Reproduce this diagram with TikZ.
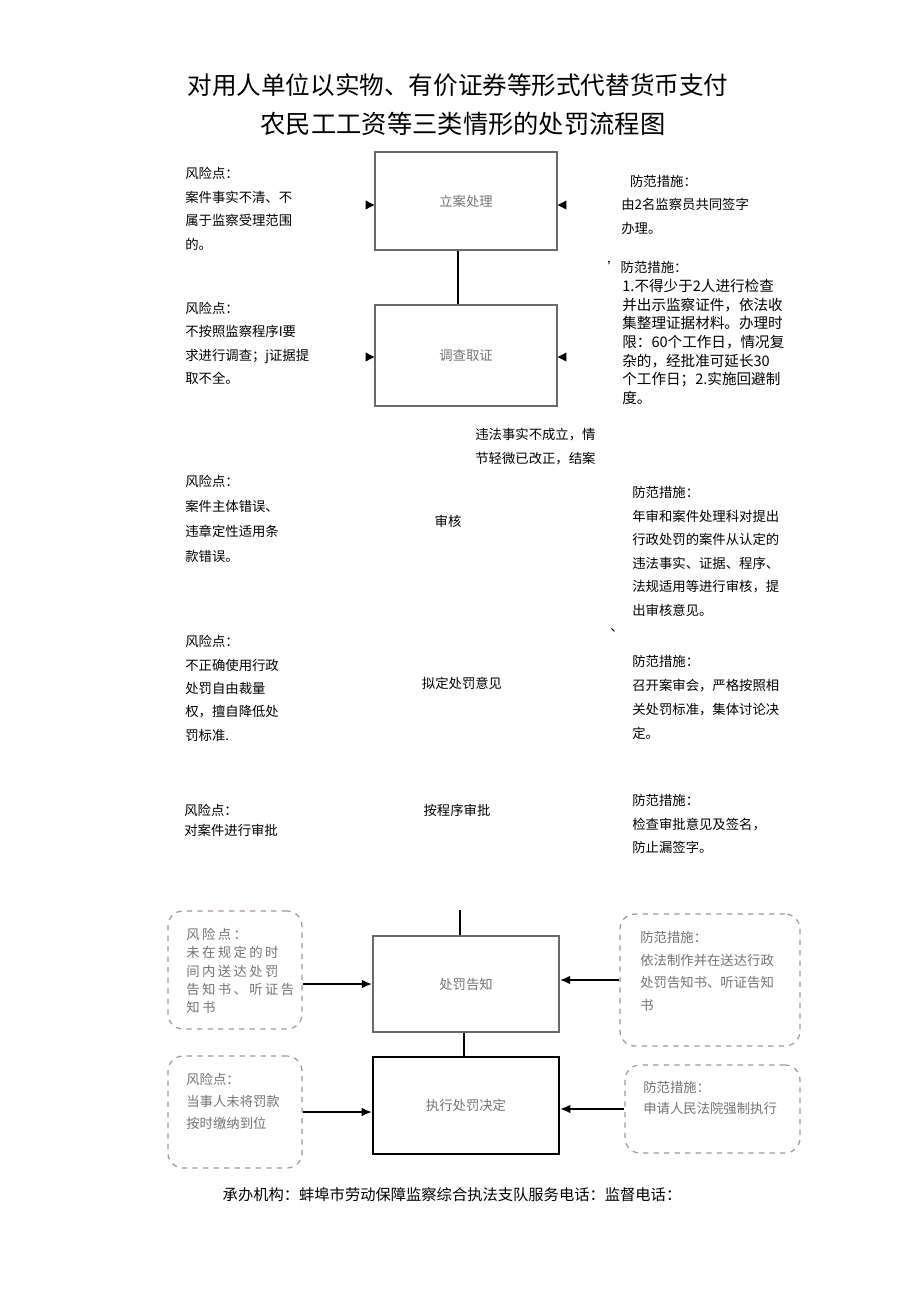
\documentclass[tikz,border=0pt]{standalone}
\usepackage{fontspec}
\setmainfont{Noto Sans CJK SC}
\newfontfamily\spaced[LetterSpace=18]{Noto Sans CJK SC}
\usetikzlibrary{arrows.meta,positioning}
\definecolor{boxline}{RGB}{105,105,105}
\definecolor{dashline}{RGB}{165,145,170}
\definecolor{greytext}{RGB}{115,115,115}
\tikzset{box/.style={draw=boxline,line width=0.8pt,minimum width=3.64cm,minimum height=1.96cm,text=greytext,font=\fontsize{7.6}{9}\selectfont},
 note/.style={anchor=north west,inner sep=0pt,align=left,font=\fontsize{7.6}{13.4}\selectfont},
 label/.style={inner sep=0pt,font=\fontsize{7.6}{9}\selectfont},
 dbox/.style={draw=dashline,dashed,rounded corners=0.3cm,line width=0.7pt},
 flow/.style={-{Latex[length=6pt,width=5pt]},line width=1.2pt},
 stub/.style={-{Triangle[length=5pt,width=5pt]},line width=0.6pt},
 link/.style={line width=1pt}}

\begin{document}
\begin{tikzpicture}[x=0.02cm,y=-0.02cm]
 \useasboundingbox (0,0) rectangle (920,1301);
 % title
 \node[font=\fontsize{14}{16}\selectfont] (title1) at (458,85) {对用人单位以实物、有价证券等形式代替货币支付};
 \node[font=\fontsize{14.4}{17}\selectfont] (title2) at (463,124) {农民工工资等三类情形的处罚流程图};

 % upper steps
 \node[box] (lian) at (466,201) {立案处理};
 \node[box,minimum height=2.02cm] (diaocha) at (466,355.5) {调查取证};
 \draw[link] ([xshift=-0.16cm]lian.south) -- ([xshift=-0.16cm]diaocha.north);

 \coordinate (la) at (366,205); \coordinate (ra) at (565,205);
 \coordinate (lb) at (366,357); \coordinate (rb) at (565,357);
 \draw[stub] (la) -- (la -| lian.west);
 \draw[stub] (ra) -- (ra -| lian.east);
 \draw[stub] (lb) -- (lb -| diaocha.west);
 \draw[stub] (rb) -- (rb -| diaocha.east);

 \node[note] (riskA) at (185,167) {风险点：\\案件事实不清、不\\属于监察受理范围\\的。};
 \node[note,font=\fontsize{7.6}{13.3}\selectfont] (measA) at (621,175) {\hspace*{5pt}防范措施：\\由2名监察员共同签字\\办理。};
 \node[note] (measBh) at (607,261) {'防范措施：};
 \node[note,font=\fontsize{8.3}{10.6}\selectfont] (measB) at (622,279) {1.不得少于2人进行检查\\并出示监察证件，依法收\\集整理证据材料。办理时\\限：60个工作日，情况复\\杂的，经批准可延长30\\个工作日；2.实施回避制\\度。};
 \node[note,font=\fontsize{7.6}{13.2}\selectfont] (riskB) at (185,302) {风险点：\\不按照监察程序I要\\求进行调查；j证据提\\取不全。};

 % middle steps (text only)
 \node[note,font=\fontsize{7.6}{13.6}\selectfont] (close) at (475,428) {违法事实不成立，情\\节轻微已改正，结案};
 \node[label] (shenhe) at (448,521) {审核};
 \node[note,font=\fontsize{7.6}{14.2}\selectfont] (riskC) at (185,475) {风险点：\\案件主体错误、\\违章定性适用条\\款错误。};
 \node[note] (measC) at (632,486) {防范措施：\\年审和案件处理科对提出\\行政处罚的案件从认定的\\违法事实、证据、程序、\\法规适用等进行审核，提\\出审核意见。};
 \node[label] (mark) at (617,630) {、};

 \node[label] (niding) at (462,683) {拟定处罚意见};
 \node[note,font=\fontsize{7.6}{13.3}\selectfont] (riskD) at (185,635) {风险点：\\不正确使用行政\\处罚自由裁量\\权，擅自降低处\\罚标准.};
 \node[note,font=\fontsize{7.6}{13.6}\selectfont] (measD) at (632,655) {防范措施：\\召开案审会，严格按照相\\关处罚标准，集体讨论决\\定。};

 \node[label] (shenpi) at (457,810) {按程序审批};
 \node[note,font=\fontsize{7.6}{11.3}\selectfont] (riskE) at (184,804) {风险点：\\对案件进行审批};
 \node[note] (measE) at (632,794) {防范措施：\\检查审批意见及签名，\\防止漏签字。};

 % lower steps
 \coordinate (cut) at (460,910);
 \node[box,minimum width=3.72cm,minimum height=1.92cm] (gaozhi) at (466,984) {处罚告知};
 \node[box,draw=black,line width=1pt,minimum width=3.72cm,minimum height=1.94cm] (zhixing) at (466,1105.5) {执行处罚决定};
 \draw[link] (cut) -- (cut |- gaozhi.north);
 \draw[link] ([xshift=-0.04cm]gaozhi.south) -- ([xshift=-0.04cm]zhixing.north);

 \node[dbox,minimum width=2.68cm,minimum height=2.36cm] (riskF) at (235,970) {};
 \node[note,text=greytext,font=\spaced\fontsize{7.6}{10.4}\selectfont] at (186,928) {风险点：\\未在规定的时\\间内送达处罚\\告知书、听证告\\知书};
 \node[dbox,minimum width=3.6cm,minimum height=2.64cm] (measF) at (710,980) {};
 \node[note,text=greytext,font=\fontsize{7.6}{12.9}\selectfont] at (640,931) {防范措施：\\依法制作并在送达行政\\处罚告知书、听证告知\\书};
 \node[dbox,minimum width=2.68cm,minimum height=2.24cm] (riskG) at (235,1112) {};
 \node[note,text=greytext,font=\fontsize{7.6}{12.5}\selectfont] at (186,1073) {风险点：\\当事人未将罚款\\按时缴纳到位};
 \node[dbox,minimum width=3.5cm,minimum height=1.76cm] (measG) at (712.5,1109) {};
 \node[note,text=greytext,font=\fontsize{7.6}{11.9}\selectfont] at (643,1081) {防范措施：\\申请人民法院强制执行};

 \draw[flow] (riskF.east |- gaozhi.west) -- (gaozhi.west);
 \draw[flow] (measF.west) -- (measF.west -| gaozhi.east);
 \draw[flow] (riskG.east) -- (riskG.east -| zhixing.west);
 \draw[flow] (measG.west) -- (measG.west -| zhixing.east);

 % footer
 \node[font=\fontsize{8.7}{10}\selectfont] (footer) at (452,1195) {承办机构：蚌埠市劳动保障监察综合执法支队服务电话：监督电话：};
\end{tikzpicture}
\end{document}
